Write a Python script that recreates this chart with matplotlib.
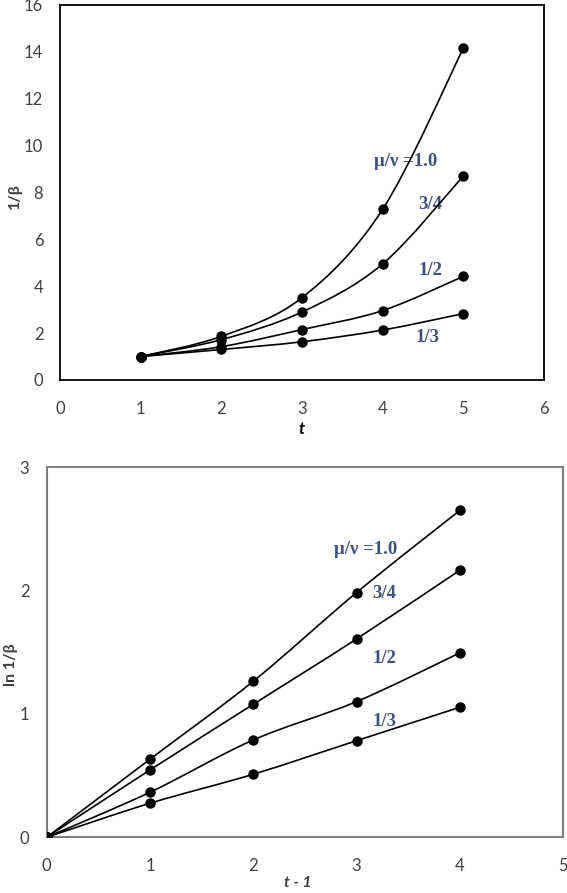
import numpy as np
import matplotlib
matplotlib.use('Agg')
import matplotlib.pyplot as plt
from matplotlib.path import Path
from matplotlib.patches import PathPatch

# Top panel: 1/beta vs t
t = [1, 2, 3, 4, 5]
inv_beta_10 = [1.0, 1.86, 3.51, 7.28, 14.15]
inv_beta_34 = [1.0, 1.72, 2.90, 4.95, 8.70]
inv_beta_12 = [1.0, 1.42, 2.15, 2.96, 4.42]
inv_beta_13 = [1.0, 1.30, 1.63, 2.13, 2.83]

# Bottom panel: ln 1/beta vs t - 1
t1 = [0, 1, 2, 3, 4]
ln_10 = [0.0, 0.633, 1.265, 1.984, 2.65]
ln_34 = [0.0, 0.546, 1.078, 1.608, 2.165]
ln_12 = [0.0, 0.365, 0.789, 1.10, 1.495]
ln_13 = [0.0, 0.276, 0.511, 0.783, 1.054]

labels = ['\u03bc/\u03bd =1.0', '3/4', '1/2', '1/3']

label_color = '#3F5378'
tick_color = '#404040'
plt.rcParams['font.family'] = ['Lato', 'DejaVu Sans']


def smooth_line(ax, x, y):
    # Excel-style smoothed line (Catmull-Rom as Bezier)
    pts = np.column_stack([x, y]).astype(float)
    verts = [pts[0]]
    codes = [Path.MOVETO]
    n = len(pts)
    for i in range(n - 1):
        p0 = pts[i - 1] if i > 0 else pts[i]
        p1 = pts[i]
        p2 = pts[i + 1]
        p3 = pts[i + 2] if i + 2 < n else pts[i + 1]
        c1 = p1 + (p2 - p0) / 6.0
        c2 = p2 - (p3 - p1) / 6.0
        verts += [c1, c2, p2]
        codes += [Path.CURVE4] * 3
    patch = PathPatch(Path(verts, codes), fill=False, edgecolor='black', lw=1.2, zorder=2)
    ax.add_patch(patch)
    ax.plot(x, y, 'o', color='black', markersize=6.5, zorder=3)


fig = plt.figure(figsize=(5.67, 8.93), dpi=100)

# ---- top chart ----
ax1 = fig.add_axes([0.1058, 0.5745, 0.8536, 0.42])
for s in [inv_beta_10, inv_beta_34, inv_beta_12, inv_beta_13]:
    smooth_line(ax1, t, s)
ax1.set_xlim(0, 6)
ax1.set_ylim(0, 16)
ax1.set_xticks(range(0, 7))
ax1.set_yticks(range(0, 17, 2))
for sp in ax1.spines.values():
    sp.set_color('black')
    sp.set_linewidth(1.3)
ax1.tick_params(length=0, labelsize=12, colors=tick_color, pad=12)
ax1.tick_params(axis='x', pad=15)
ax1.set_ylabel('1/\u03b2', fontsize=11.5, fontweight='bold', color=tick_color)
ax1.yaxis.set_label_coords(-0.078, 0.49)
ax1.set_xlabel('t', fontsize=12, fontweight='bold', style='italic', color='black')
ax1.xaxis.set_label_coords(0.5, -0.109)
top_pos = [(4.28, 9.3), (4.59, 7.47), (4.59, 4.65), (4.56, 1.83)]
for lab, (x, y) in zip(labels, top_pos):
    ax1.text(x, y, lab, fontsize=13.5, fontweight='bold', color=label_color,
             family='Liberation Serif', ha='center', va='center', zorder=1)

# ---- bottom chart ----
ax2 = fig.add_axes([0.0824, 0.0624, 0.9106, 0.4143])
for s in [ln_10, ln_34, ln_12, ln_13]:
    smooth_line(ax2, t1, s)
ax2.set_xlim(0, 5)
ax2.set_ylim(0, 3)
ax2.set_xticks(range(0, 6))
ax2.set_yticks(range(0, 4))
for sp in ax2.spines.values():
    sp.set_color('#808080')
    sp.set_linewidth(1.5)
ax2.tick_params(length=0, labelsize=12, colors=tick_color, pad=12.5)
ax2.tick_params(axis='x', pad=15)
ax2.set_ylabel('ln 1/\u03b2', fontsize=11.5, fontweight='bold', color=tick_color)
ax2.yaxis.set_label_coords(-0.056, 0.466)
ax2.set_xlabel('t - 1', fontsize=11.5, fontweight='bold', style='italic', color=tick_color)
ax2.xaxis.set_label_coords(0.487, -0.104)
bot_pos = [(3.09, 2.33), (3.27, 1.98), (3.27, 1.45), (3.27, 0.94)]
for lab, (x, y) in zip(labels, bot_pos):
    ax2.text(x, y, lab, fontsize=13.5, fontweight='bold', color=label_color,
             family='Liberation Serif', ha='center', va='center', zorder=1)

fig.savefig('out.png', dpi=100)
